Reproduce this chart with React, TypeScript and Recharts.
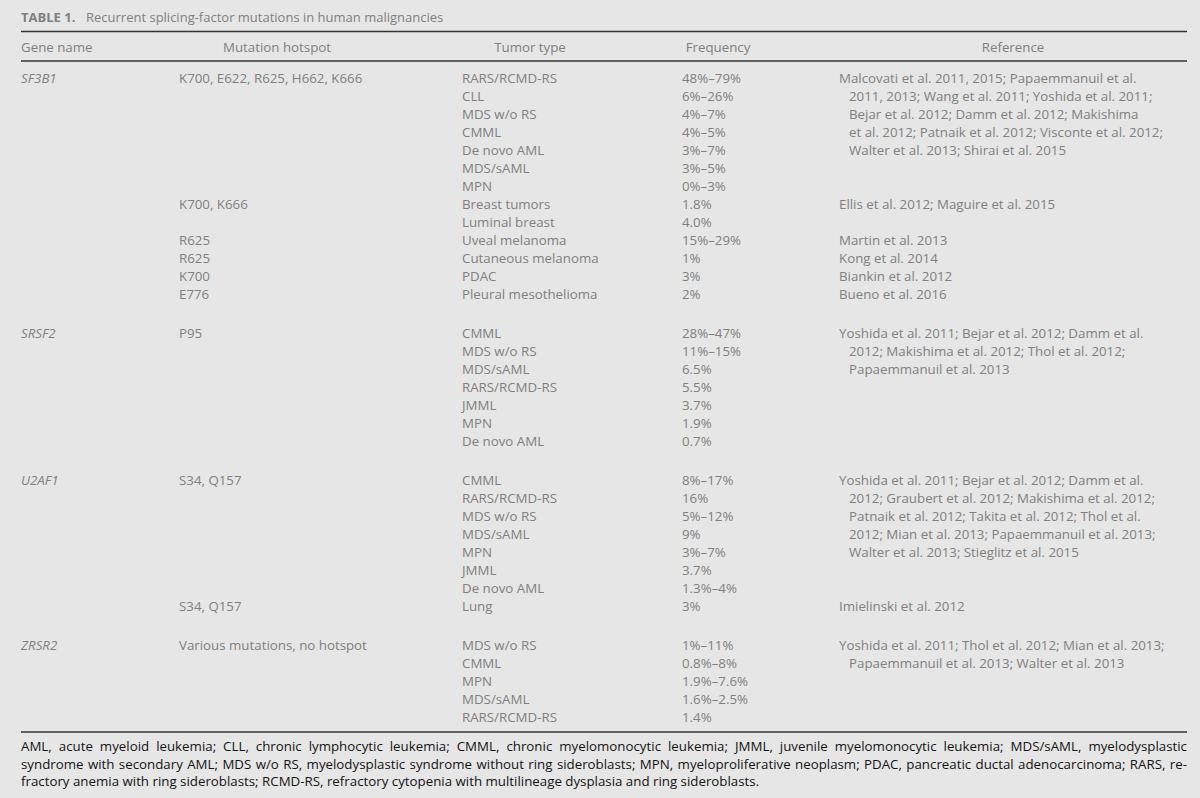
import React from 'react';
import { Surface, Layer, Text } from 'recharts';

// Table content
const TITLE_LABEL = 'TABLE 1.';
const TITLE_TEXT = 'Recurrent splicing-factor mutations in human malignancies';
const HEADERS = ['Gene name', 'Mutation hotspot', 'Tumor type', 'Frequency', 'Reference'];

const genes = ['SF3B1', 'SRSF2', 'U2AF1', 'ZRSR2'];

const sf3b1Tumors = ['RARS/RCMD-RS', 'CLL', 'MDS w/o RS', 'CMML', 'De novo AML', 'MDS/sAML', 'MPN', 'Breast tumors', 'Luminal breast', 'Uveal melanoma', 'Cutaneous melanoma', 'PDAC', 'Pleural mesothelioma'];
const sf3b1Freq = ['48%–79%', '6%–26%', '4%–7%', '4%–5%', '3%–7%', '3%–5%', '0%–3%', '1.8%', '4.0%', '15%–29%', '1%', '3%', '2%'];
const sf3b1Hotspots: [number, string][] = [[0, 'K700, E622, R625, H662, K666'], [7, 'K700, K666'], [9, 'R625'], [10, 'R625'], [11, 'K700'], [12, 'E776']];
const sf3b1Refs: [number, string[]][] = [
  [0, ['Malcovati et al. 2011, 2015; Papaemmanuil et al.', '2011, 2013; Wang et al. 2011; Yoshida et al. 2011;', 'Bejar et al. 2012; Damm et al. 2012; Makishima', 'et al. 2012; Patnaik et al. 2012; Visconte et al. 2012;', 'Walter et al. 2013; Shirai et al. 2015']],
  [7, ['Ellis et al. 2012; Maguire et al. 2015']],
  [9, ['Martin et al. 2013']],
  [10, ['Kong et al. 2014']],
  [11, ['Biankin et al. 2012']],
  [12, ['Bueno et al. 2016']],
];

const srsf2Tumors = ['CMML', 'MDS w/o RS', 'MDS/sAML', 'RARS/RCMD-RS', 'JMML', 'MPN', 'De novo AML'];
const srsf2Freq = ['28%–47%', '11%–15%', '6.5%', '5.5%', '3.7%', '1.9%', '0.7%'];
const srsf2Hotspots: [number, string][] = [[0, 'P95']];
const srsf2Refs: [number, string[]][] = [
  [0, ['Yoshida et al. 2011; Bejar et al. 2012; Damm et al.', '2012; Makishima et al. 2012; Thol et al. 2012;', 'Papaemmanuil et al. 2013']],
];

const u2af1Tumors = ['CMML', 'RARS/RCMD-RS', 'MDS w/o RS', 'MDS/sAML', 'MPN', 'JMML', 'De novo AML', 'Lung'];
const u2af1Freq = ['8%–17%', '16%', '5%–12%', '9%', '3%–7%', '3.7%', '1.3%–4%', '3%'];
const u2af1Hotspots: [number, string][] = [[0, 'S34, Q157'], [7, 'S34, Q157']];
const u2af1Refs: [number, string[]][] = [
  [0, ['Yoshida et al. 2011; Bejar et al. 2012; Damm et al.', '2012; Graubert et al. 2012; Makishima et al. 2012;', 'Patnaik et al. 2012; Takita et al. 2012; Thol et al.', '2012; Mian et al. 2013; Papaemmanuil et al. 2013;', 'Walter et al. 2013; Stieglitz et al. 2015']],
  [7, ['Imielinski et al. 2012']],
];

const zrsr2Tumors = ['MDS w/o RS', 'CMML', 'MPN', 'MDS/sAML', 'RARS/RCMD-RS'];
const zrsr2Freq = ['1%–11%', '0.8%–8%', '1.9%–7.6%', '1.6%–2.5%', '1.4%'];
const zrsr2Hotspots: [number, string][] = [[0, 'Various mutations, no hotspot']];
const zrsr2Refs: [number, string[]][] = [
  [0, ['Yoshida et al. 2011; Thol et al. 2012; Mian et al. 2013;', 'Papaemmanuil et al. 2013; Walter et al. 2013']],
];

const footnoteLines = [
  'AML, acute myeloid leukemia; CLL, chronic lymphocytic leukemia; CMML, chronic myelomonocytic leukemia; JMML, juvenile myelomonocytic leukemia; MDS/sAML, myelodysplastic',
  'syndrome with secondary AML; MDS w/o RS, myelodysplastic syndrome without ring sideroblasts; MPN, myeloproliferative neoplasm; PDAC, pancreatic ductal adenocarcinoma; RARS, re-',
  'fractory anemia with ring sideroblasts; RCMD-RS, refractory cytopenia with multilineage dysplasia and ring sideroblasts.',
];

const groups = [
  { tumors: sf3b1Tumors, freq: sf3b1Freq, hotspots: sf3b1Hotspots, refs: sf3b1Refs },
  { tumors: srsf2Tumors, freq: srsf2Freq, hotspots: srsf2Hotspots, refs: srsf2Refs },
  { tumors: u2af1Tumors, freq: u2af1Freq, hotspots: u2af1Hotspots, refs: u2af1Refs },
  { tumors: zrsr2Tumors, freq: zrsr2Freq, hotspots: zrsr2Hotspots, refs: zrsr2Refs },
];

const W = 1200;
const H = 798;
const FONT = '"Open Sans", sans-serif';
const FS = 13.3;
const INK = '#141414';
const RULE = '#333333';
const LEFT = 21;
const RIGHT = 1187;

const COL_X = [21, 179, 462, 682, 839];
const HEAD_X = [21, 277, 530, 718, 1013];
const ROW_STEP = 18;
const GROUP_GAP = 39;
const FIRST_ROW = 78;

export default function App() {
  const cells: React.ReactNode[] = [];
  let y0 = FIRST_ROW;
  groups.forEach((g, gi) => {
    const at = (i: number) => y0 + i * ROW_STEP;
    cells.push(
      <Text key={`gene-${gi}`} x={COL_X[0]} y={at(0)} verticalAnchor="middle" fontStyle="italic">{genes[gi]}</Text>
    );
    g.hotspots.forEach(([r, s]) => cells.push(
      <Text key={`hot-${gi}-${r}`} x={COL_X[1]} y={at(r)} verticalAnchor="middle">{s}</Text>
    ));
    g.tumors.forEach((t, r) => cells.push(
      <Text key={`tum-${gi}-${r}`} x={COL_X[2]} y={at(r)} verticalAnchor="middle">{t}</Text>
    ));
    g.freq.forEach((f, r) => cells.push(
      <Text key={`frq-${gi}-${r}`} x={COL_X[3]} y={at(r)} verticalAnchor="middle">{f}</Text>
    ));
    g.refs.forEach(([r, lines]) => lines.forEach((ln, li) => cells.push(
      <Text key={`ref-${gi}-${r}-${li}`} x={COL_X[4] + (li > 0 ? 10 : 0)} y={at(r + li)} verticalAnchor="middle">{ln}</Text>
    )));
    y0 = at(g.tumors.length - 1) + GROUP_GAP;
  });

  return (
    <div style={{ position: 'absolute', left: 0, top: 0, width: W, height: H, background: '#e6e6e6', fontFamily: FONT, color: INK, overflow: 'hidden' }}>
      <Surface width={W} height={H} style={{ position: 'absolute', left: 0, top: 0 }}>
        <Layer fontFamily={FONT} fontSize={FS} fill={INK}>
          <Text x={LEFT} y={17} verticalAnchor="middle" fontWeight="bold" fontSize={13}>{TITLE_LABEL}</Text>
          <Text x={86} y={17} verticalAnchor="middle" fontSize={13}>{TITLE_TEXT}</Text>
          <line x1={LEFT} x2={RIGHT} y1={31.5} y2={31.5} stroke={RULE} strokeWidth={1.5} />
          {HEADERS.map((h, i) => (
            <Text key={h} x={HEAD_X[i]} y={47} verticalAnchor="middle" textAnchor={i === 0 ? 'start' : 'middle'}>{h}</Text>
          ))}
          <line x1={LEFT} x2={RIGHT} y1={61} y2={61} stroke={RULE} strokeWidth={1.5} />
          {cells}
          <line x1={LEFT} x2={RIGHT} y1={732} y2={732} stroke={RULE} strokeWidth={1.5} />
        </Layer>
      </Surface>
      <div style={{ position: 'absolute', left: LEFT, top: 738, width: RIGHT - LEFT, fontSize: FS, lineHeight: '17.5px' }}>
        {footnoteLines.map((ln, i) => (
          <div key={i} style={{ textAlign: 'justify', textAlignLast: i < footnoteLines.length - 1 ? 'justify' : 'left', whiteSpace: 'nowrap' }}>{ln}</div>
        ))}
      </div>
    </div>
  );
}
